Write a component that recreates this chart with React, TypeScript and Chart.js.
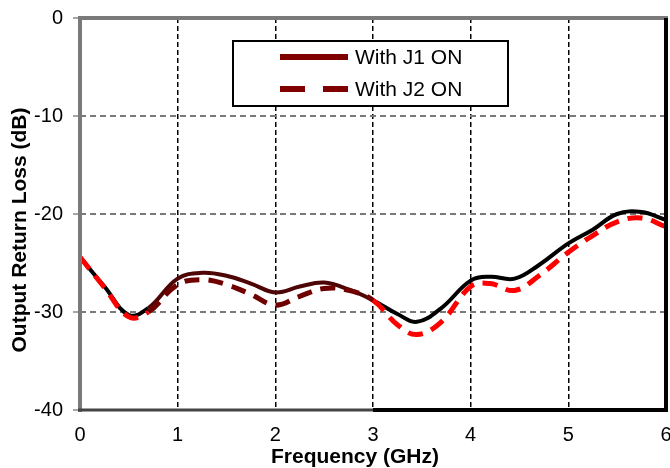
import React, { useEffect, useRef } from 'react';
import { Chart, registerables } from 'chart.js';

Chart.register(...registerables);

const seriesLabels = ['With J1 ON', 'With J2 ON'];
const freqGHz = [0, 0.25, 0.5, 0.7, 1, 1.25, 1.5, 1.75, 2, 2.25, 2.5, 2.75, 3, 3.25, 3.45, 3.7, 4, 4.2, 4.45, 4.7, 5, 5.25, 5.5, 5.75, 6];
const lossJ1 = [-24.4, -27.4, -30.3, -29.6, -26.6, -26.0, -26.3, -27.1, -28.0, -27.4, -27.0, -27.7, -28.8, -30.2, -31.0, -29.6, -26.8, -26.4, -26.6, -25.2, -23.0, -21.6, -20.0, -19.8, -20.6];
const lossJ2 = [-24.4, -27.5, -30.5, -30.0, -27.2, -26.7, -27.2, -28.2, -29.3, -28.4, -27.6, -27.8, -28.8, -31.3, -32.3, -31.0, -27.4, -27.1, -27.8, -26.3, -23.9, -22.2, -20.8, -20.4, -21.3];
const xAxisTitle = 'Frequency (GHz)';
const yAxisTitle = 'Output Return Loss (dB)';

const FONT = '"Liberation Sans", Arial, sans-serif';
const LEGEND_COLOR = '#800000';

export default function App() {
  const ref = useRef<HTMLCanvasElement>(null);

  useEffect(() => {
    const canvas = ref.current;
    if (!canvas) return;

    const inDark = (x: number) => x >= 0.7 - 1e-9 && x < 3 - 1e-9;

    const framePlugin = {
      id: 'frame',
      afterDatasetsDraw(chart: any) {
        const { ctx, chartArea } = chart;
        const { left, right, top, bottom } = chartArea;
        const xs = chart.scales.x;
        const ys = chart.scales.y;
        ctx.save();
        ctx.setLineDash([]);
        ctx.strokeStyle = '#8a8a8a';
        ctx.lineWidth = 1.5;
        for (let v = -40; v <= 0; v += 10) {
          const py = ys.getPixelForValue(v);
          ctx.beginPath();
          ctx.moveTo(left - 7, py);
          ctx.lineTo(left, py);
          ctx.stroke();
        }
        ctx.strokeStyle = '#7a7a7a';
        ctx.lineWidth = 4;
        ctx.beginPath();
        ctx.moveTo(left - 2, top);
        ctx.lineTo(right + 2, top);
        ctx.stroke();
        ctx.beginPath();
        ctx.moveTo(left, top - 2);
        ctx.lineTo(left, bottom + 2);
        ctx.stroke();
        const x3 = xs.getPixelForValue(3);
        ctx.strokeStyle = '#444444';
        ctx.lineWidth = 3;
        ctx.beginPath();
        ctx.moveTo(left - 2, bottom);
        ctx.lineTo(x3, bottom);
        ctx.stroke();
        ctx.strokeStyle = '#000000';
        ctx.lineWidth = 4;
        ctx.beginPath();
        ctx.moveTo(x3, bottom);
        ctx.lineTo(right + 2, bottom);
        ctx.stroke();
        ctx.beginPath();
        ctx.moveTo(right, top);
        ctx.lineTo(right, bottom + 2);
        ctx.stroke();
        ctx.restore();
      },
      afterDraw(chart: any) {
        const { ctx } = chart;
        ctx.save();
        ctx.setLineDash([]);
        const bx = 233, by = 41, bw = 275, bh = 65;
        ctx.fillStyle = '#ffffff';
        ctx.fillRect(bx, by, bw, bh);
        ctx.strokeStyle = '#000000';
        ctx.lineWidth = 2;
        ctx.strokeRect(bx, by, bw, bh);
        const rows = [57, 89];
        chart.data.datasets.forEach((ds: any, i: number) => {
          const y = rows[i];
          ctx.strokeStyle = LEGEND_COLOR;
          ctx.lineWidth = 6;
          ctx.lineCap = 'butt';
          ctx.setLineDash(i === 0 ? [] : [25, 18]);
          ctx.beginPath();
          ctx.moveTo(280, y);
          ctx.lineTo(348, y);
          ctx.stroke();
          ctx.setLineDash([]);
          ctx.fillStyle = '#000000';
          ctx.font = `21px ${FONT}`;
          ctx.textAlign = 'left';
          ctx.textBaseline = 'middle';
          ctx.fillText(ds.label, 355, y + 1);
        });
        ctx.fillStyle = '#000000';
        ctx.font = `bold 21px ${FONT}`;
        ctx.textAlign = 'center';
        ctx.textBaseline = 'middle';
        ctx.fillText(xAxisTitle, 355, 457);
        ctx.translate(20, 230);
        ctx.rotate(-Math.PI / 2);
        ctx.fillText(yAxisTitle, 0, 0);
        ctx.restore();
      },
    };

    const chart = new Chart(canvas, {
      type: 'line',
      data: {
        datasets: [
          {
            label: seriesLabels[0],
            data: freqGHz.map((f, i) => ({ x: f, y: lossJ1[i] })),
            borderColor: LEGEND_COLOR,
            borderWidth: 4,
            pointRadius: 0,
            fill: false,
            tension: 0.4,
            order: 1,
            segment: {
              borderColor: (c: any) => (inDark(c.p0.parsed.x) ? '#4d0505' : '#000000'),
            },
          },
          {
            label: seriesLabels[1],
            data: freqGHz.map((f, i) => ({ x: f, y: lossJ2[i] })),
            borderColor: LEGEND_COLOR,
            borderWidth: 5,
            borderDash: [15, 9],
            pointRadius: 0,
            fill: false,
            tension: 0.4,
            order: 0,
            segment: {
              borderColor: (c: any) => (inDark(c.p0.parsed.x) ? '#700000' : '#ff0000'),
            },
          },
        ],
      },
      options: {
        responsive: false,
        animation: false,
        events: [],
        layout: { padding: { top: 18, right: 4, left: 0, bottom: 0 } },
        plugins: {
          legend: { display: false },
          tooltip: { enabled: false },
          title: { display: false },
        },
        scales: {
          x: {
            type: 'linear',
            min: 0,
            max: 6,
            afterFit: (s: any) => {
              s.height = 58;
              s.paddingLeft = 0;
              s.paddingRight = 0;
            },
            ticks: {
              stepSize: 1,
              padding: 13,
              color: '#000000',
              font: { family: FONT, size: 20 },
              maxRotation: 0,
            },
            grid: {
              color: '#000000',
              lineWidth: 1.5,
              drawTicks: false,
            },
            border: { display: false, dash: [5, 3] },
          },
          y: {
            type: 'linear',
            min: -40,
            max: 0,
            afterFit: (s: any) => {
              s.width = 80;
              s.paddingTop = 0;
              s.paddingBottom = 0;
            },
            ticks: {
              stepSize: 10,
              padding: 17,
              color: '#000000',
              font: { family: FONT, size: 20 },
            },
            grid: {
              color: '#7a7a7a',
              lineWidth: 2,
              drawTicks: false,
            },
            border: { display: false, dash: [6, 4] },
          },
        },
      },
      plugins: [framePlugin],
    } as any);

    return () => chart.destroy();
  }, []);

  return (
    <div style={{ position: 'fixed', left: 0, top: 0, width: 670, height: 468, background: '#ffffff' }}>
      <canvas ref={ref} width={670} height={468} style={{ display: 'block', width: 670, height: 468 }} />
    </div>
  );
}
